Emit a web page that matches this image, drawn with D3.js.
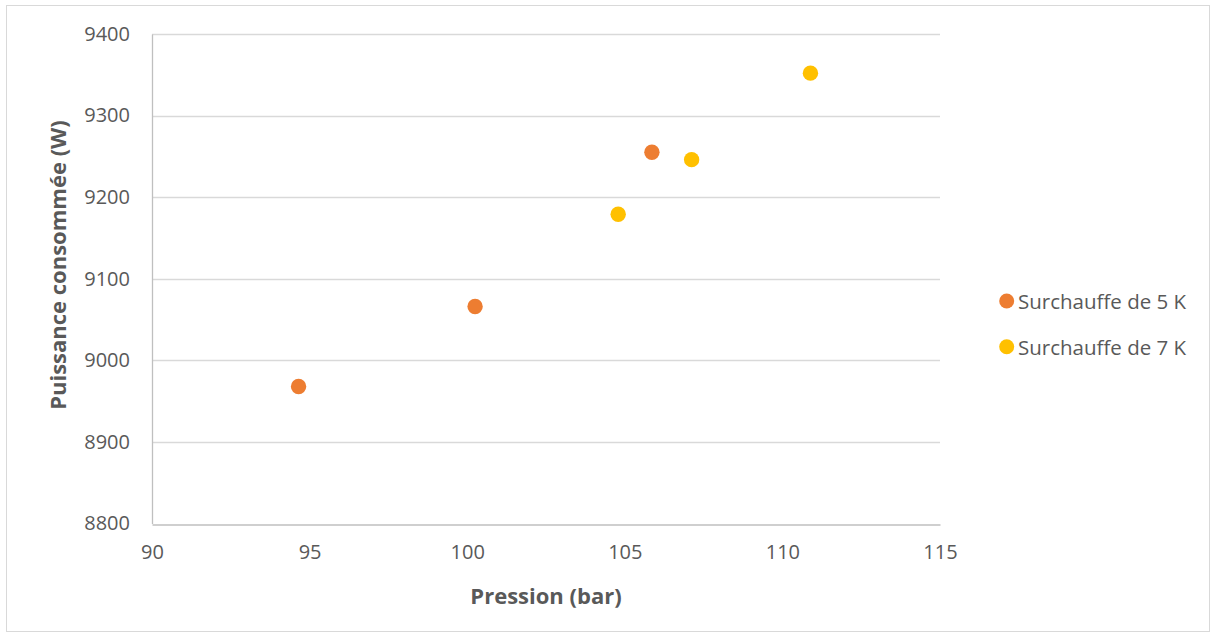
<!DOCTYPE html>
<html><head><meta charset="utf-8">
<script src="https://cdn.jsdelivr.net/npm/d3@7"></script>
<style>body{margin:0;background:#fff}svg{display:block}text{font-family:"Open Sans",sans-serif;fill:#595959}</style>
</head><body><svg id="c" width="1213" height="636"></svg>
<script>
const series5x = [94.65, 100.25, 105.86];
const series5y = [8968, 9066, 9255];
const series7x = [104.79, 107.12, 110.89];
const series7y = [9179, 9246, 9352];
const seriesNames = ["Surchauffe de 5 K", "Surchauffe de 7 K"];
const xTicks = [90, 95, 100, 105, 110, 115];
const yTicks = [8800, 8900, 9000, 9100, 9200, 9300, 9400];
const colors = ["#ED7D31", "#FFC000"];

const svg = d3.select("#c");
svg.append("rect").attr("x",6.5).attr("y",5.5).attr("width",1203).attr("height",626)
  .attr("fill","#fff").attr("stroke","#d9d9d9");
const x = d3.scaleLinear().domain([90,115]).range([152,940]);
const y = d3.scaleLinear().domain([8800,9400]).range([523.5,34]);

// gridlines
svg.append("g").selectAll("line").data(yTicks.filter(t=>t>8800)).join("line")
  .attr("x1",x(90)).attr("x2",x(115)).attr("y1",d=>Math.round(y(d))+0.5).attr("y2",d=>Math.round(y(d))+0.5)
  .attr("stroke","#d9d9d9").attr("stroke-width",1.3);
// axes
const xa = svg.append("g").attr("transform",`translate(0,${Math.round(y(8800))+0.5})`)
  .call(d3.axisBottom(x).tickValues(xTicks).tickSize(0).tickPadding(20));
const ya = svg.append("g").attr("transform",`translate(${x(90)},0)`)
  .call(d3.axisLeft(y).tickValues(yTicks).tickSize(0).tickPadding(22).tickFormat(d3.format("d")));
[xa,ya].forEach(g=>{
  g.select(".domain").attr("stroke","#bfbfbf").attr("stroke-width",1.3);
  g.selectAll("text").style("font-family","Open Sans").style("font-size","20px").attr("fill","#595959");
});

// points
const d5 = series5x.map((v,i)=>({x:v,y:series5y[i]}));
const d7 = series7x.map((v,i)=>({x:v,y:series7y[i]}));
[d5,d7].forEach((d,k)=>{
  svg.append("g").selectAll("circle").data(d).join("circle")
    .attr("cx",p=>x(p.x)).attr("cy",p=>y(p.y)).attr("r",7.7).attr("fill",colors[k]);
});

// titles
svg.append("text").attr("x",546).attr("y",595).attr("text-anchor","middle").attr("dominant-baseline","central")
  .style("font-size","22px").style("font-weight","bold").text("Pression (bar)");
svg.append("text").attr("transform","translate(57,265) rotate(-90)").attr("text-anchor","middle").attr("dominant-baseline","central")
  .style("font-size","22px").style("font-weight","bold").text("Puissance consommée (W)");

// legend
const lg = svg.append("g");
seriesNames.forEach((n,i)=>{
  const ly = 301 + i*45.7;
  lg.append("circle").attr("cx",1006.7).attr("cy",ly).attr("r",7.5).attr("fill",colors[i]);
  lg.append("text").attr("x",1018).attr("y",ly).attr("dominant-baseline","central").style("font-size","20.5px").text(n);
});
</script></body></html>
